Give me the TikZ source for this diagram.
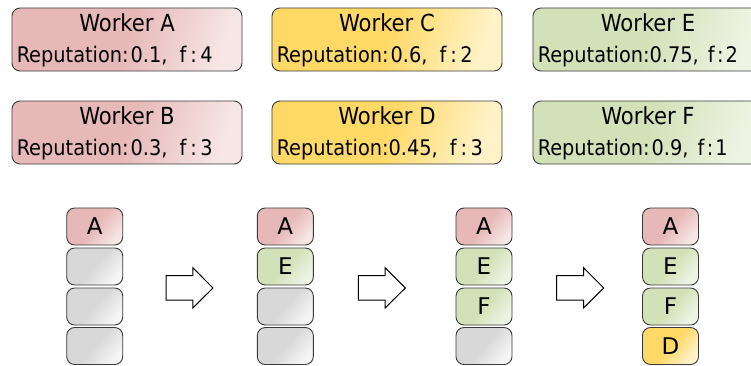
\documentclass[tikz,border=0pt]{standalone}
\usepackage{fontspec}
\setmainfont{DejaVu Sans Condensed}
\newfontfamily\slotfont{DejaVu Sans}
\definecolor{rdark}{HTML}{E6B9B8}
\definecolor{rlight}{HTML}{F6E6E5}
\definecolor{ydark}{HTML}{FFD966}
\definecolor{ylight}{HTML}{FFF2C8}
\definecolor{gdark}{HTML}{D3E1B8}
\definecolor{glight}{HTML}{EEF4E4}
\definecolor{kdark}{HTML}{D8D8D8}
\definecolor{klight}{HTML}{F6F6F6}
\definecolor{edge}{HTML}{3A3A3A}
\begin{document}
\begin{tikzpicture}[x=1pt,y=-1pt,
  tint red/.style={top color=rdark, bottom color=rlight, middle color=rdark},
  tint yellow/.style={top color=ydark, bottom color=ylight, middle color=ydark},
  tint green/.style={top color=gdark, bottom color=glight, middle color=gdark},
  tint gray/.style={top color=kdark, bottom color=klight, middle color=kdark},
  card/.style={draw=edge, line width=0.9pt, rounded corners=8pt,
    minimum width=230pt, minimum height=63pt, inner sep=0pt},
  cardtitle/.style={anchor=base, inner sep=0pt, font=\fontsize{23.5}{27}\selectfont},
  cardtext/.style={anchor=base west, inner sep=0pt, font=\fontsize{21.5}{25}\selectfont},
  cell/.style={draw=edge, line width=0.9pt, rounded corners=8pt,
    minimum width=56pt, minimum height=37pt, inner sep=0pt,
    font=\slotfont\fontsize{23}{27}\selectfont},
  blockarrow/.style={draw=black, fill=white, line width=1pt, line join=miter}
]
\useasboundingbox (0,0) rectangle (751,365);
\clip (0,0) rectangle (751,365);

% worker cards: name, tint, centre, title, reputation line
\newcommand\workercard[5]{%
  \node[card, #2, shading angle=72] (#1) at (#3) {};
  \node[cardtitle] (#1t) at ([yshift=-23.7pt]#1.north) {#4};
  \node[cardtext] (#1r) at ([xshift=5pt,yshift=-55.3pt]#1.north west) {#5};
}
\newcommand\gap{\hspace{2pt}}
\newcommand\wide[1]{f\hspace{4pt}:\hspace{3.5pt}#1}
\newcommand\tight[1]{f\hspace{2.5pt}:\hspace{2pt}#1}
\workercard{wa}{tint red}{127,39.5}{Worker A}{Reputation:\gap 0.1,\hspace{12pt}\wide{4}}
\workercard{wb}{tint red}{127,132.5}{Worker B}{Reputation:\gap 0.3,\hspace{12pt}\wide{3}}
\workercard{wc}{tint yellow}{387,39.5}{Worker C}{Reputation:\gap 0.6,\hspace{12pt}\wide{2}}
\workercard{wd}{tint yellow}{387,132.5}{Worker D}{Reputation:0.45,\hspace{12pt}\wide{3}}
\workercard{we}{tint green}{648,39.5}{Worker E}{Reputation:0.75,\hspace{9pt}\tight{2}}
\workercard{wf}{tint green}{648,132.5}{Worker F}{Reputation:\gap 0.9,\hspace{9pt}\tight{1}}

% slot stacks
\newcommand\slot[5]{%
  \node[cell, #2, shading angle=50] (#1) at (#3,#4) {#5};
}
% stack 1
\slot{s1a}{tint red}{94.7}{226.5}{A}
\slot{s1b}{tint gray}{94.7}{266.5}{}
\slot{s1c}{tint gray}{94.7}{306.5}{}
\slot{s1d}{tint gray}{94.7}{346}{}
% stack 2
\slot{s2a}{tint red}{285.3}{226.5}{A}
\slot{s2b}{tint green}{285.3}{266.5}{E}
\slot{s2c}{tint gray}{285.3}{306.5}{}
\slot{s2d}{tint gray}{285.3}{346}{}
% stack 3
\slot{s3a}{tint red}{484}{226.5}{A}
\slot{s3b}{tint green}{484}{266.5}{E}
\slot{s3c}{tint green}{484}{306.5}{F}
\slot{s3d}{tint gray}{484}{346}{}
% stack 4
\slot{s4a}{tint red}{670.5}{226.5}{A}
\slot{s4b}{tint green}{670.5}{266.5}{E}
\slot{s4c}{tint green}{670.5}{306.5}{F}
\slot{s4d}{tint yellow}{670.5}{346}{D}

% block arrows between the stacks
\foreach \ax in {166,358.3,556.7}{
  \draw[blockarrow] (\ax,275.7) -- (\ax+26.8,275.7) -- (\ax+26.8,267.7)
    -- (\ax+47,288) -- (\ax+26.8,308) -- (\ax+26.8,300.2) -- (\ax,300.2) -- cycle;
}
\end{tikzpicture}
\end{document}
